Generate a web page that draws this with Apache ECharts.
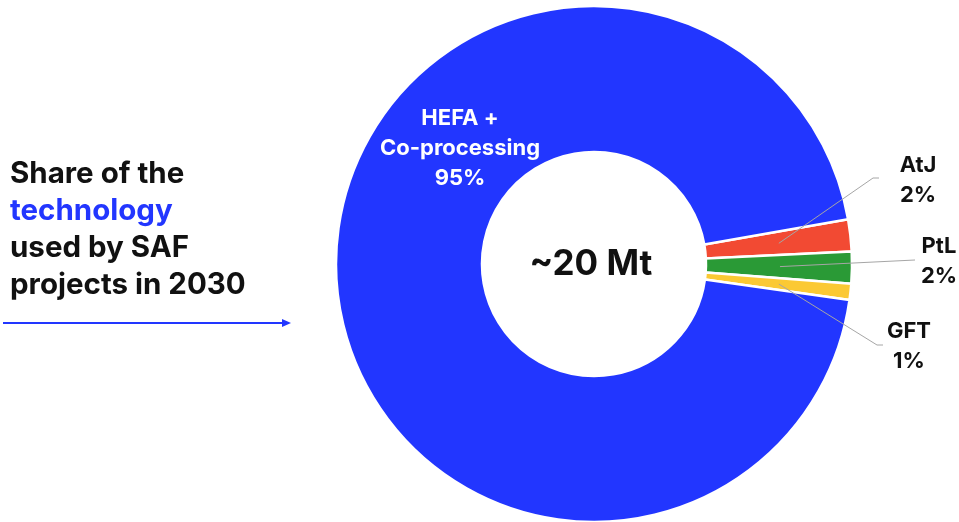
<!DOCTYPE html>
<html>
<head>
<meta charset="utf-8">
<style>
  html, body { margin: 0; padding: 0; background: #fff; }
  #chart { width: 959px; height: 522px; }
</style>
<script src="https://cdn.jsdelivr.net/npm/echarts@6/dist/echarts.min.js"></script>
</head>
<body>
<div id="chart"></div>
<script>
// Technology shares of SAF projects in 2030 (percent)
const technologies = ['AtJ', 'PtL', 'GFT', 'HEFA +\nCo-processing'];
const shares = [2, 2, 1, 95];
const colors = ['#F24A33', '#2A9A36', '#FBC934', '#2236FF'];
const totalVolume = '~20 Mt';

const FONT = 'Inter, "Noto Sans", sans-serif';
const CX = 594, CY = 264;
const START_ANGLE = 10;
const ANCHOR_R = 186;

const chart = echarts.init(document.getElementById('chart'), null, { renderer: 'canvas' });

// Mid angle of each slice, used to anchor the leader lines inside the ring
const total = shares.reduce((s, v) => s + v, 0);
function midAngle(i) {
  let before = 0;
  for (let k = 0; k < i; k++) before += shares[k];
  return START_ANGLE - 360 * (before + shares[i] / 2) / total;
}
function anchorPoint(i) {
  const a = midAngle(i) * Math.PI / 180;
  return [CX + ANCHOR_R * Math.cos(a), CY - ANCHOR_R * Math.sin(a)];
}

// Where each label sits and how its leader line bends
const labelPlacement = [
  { x: 918, y: 180, bend: [[873, 178], [879, 178]] },
  { x: 939, y: 261, bend: [[915, 260]] },
  { x: 909, y: 346, bend: [[877, 345], [883, 345]] },
  { x: 460, y: 148, bend: null }
];

const leaderLines = labelPlacement
  .map((place, i) => place.bend ? {
    type: 'polyline',
    silent: true,
    z: 10,
    shape: { points: [anchorPoint(i)].concat(place.bend) },
    style: { stroke: '#A6A6A6', lineWidth: 1, fill: null }
  } : null)
  .filter(Boolean);

const option = {
  backgroundColor: '#fff',
  animation: false,
  series: [
    {
      type: 'pie',
      center: [CX, CY],
      radius: [112, 258],
      startAngle: START_ANGLE,
      clockwise: true,
      silent: true,
      label: { show: false },
      labelLine: { show: false },
      itemStyle: { borderColor: '#fff', borderWidth: 2.5 },
      data: technologies.map((name, i) => ({
        name: name,
        value: shares[i],
        itemStyle: { color: colors[i] }
      }))
    },
    {
      // transparent companion disc that carries the labels
      type: 'pie',
      center: [CX, CY],
      radius: [0, ANCHOR_R],
      startAngle: START_ANGLE,
      clockwise: true,
      silent: true,
      itemStyle: { color: 'rgba(0,0,0,0)' },
      label: {
        show: true,
        position: 'outside',
        formatter: p => p.name + '\n' + p.value + '%',
        fontFamily: FONT,
        fontWeight: 'bold',
        fontSize: 22,
        lineHeight: 30,
        color: '#111',
        align: 'center'
      },
      labelLine: { show: false },
      labelLayout: function (params) {
        const place = labelPlacement[params.dataIndex];
        return { x: place.x, y: place.y, align: 'center', verticalAlign: 'middle' };
      },
      data: technologies.map((name, i) => {
        const item = { name: name, value: shares[i] };
        if (i === 3) item.label = { color: '#fff' };
        return item;
      })
    }
  ],
  graphic: leaderLines.concat([
    {
      type: 'text',
      left: 10,
      top: 159,
      style: {
        text: '{a|Share of the}\n{b|technology}\n{a|used by SAF}\n{a|projects in 2030}',
        rich: {
          a: { fontFamily: FONT, fontWeight: 'bold', fontSize: 29.5, lineHeight: 37, fill: '#111' },
          b: { fontFamily: FONT, fontWeight: 'bold', fontSize: 29.5, lineHeight: 37, fill: '#2236FF' }
        }
      }
    },
    {
      type: 'line',
      shape: { x1: 3, y1: 323, x2: 284, y2: 323 },
      style: { stroke: '#2236FF', lineWidth: 2 }
    },
    {
      type: 'polygon',
      shape: { points: [[282, 319], [291, 323], [282, 327]] },
      style: { fill: '#2236FF' }
    },
    {
      type: 'text',
      x: CX - 3,
      y: CY,
      style: {
        text: totalVolume,
        fontFamily: FONT,
        fontWeight: 'bold',
        fontSize: 35,
        fill: '#111',
        textAlign: 'center',
        textVerticalAlign: 'middle'
      }
    }
  ])
};

chart.setOption(option);
</script>
</body>
</html>
